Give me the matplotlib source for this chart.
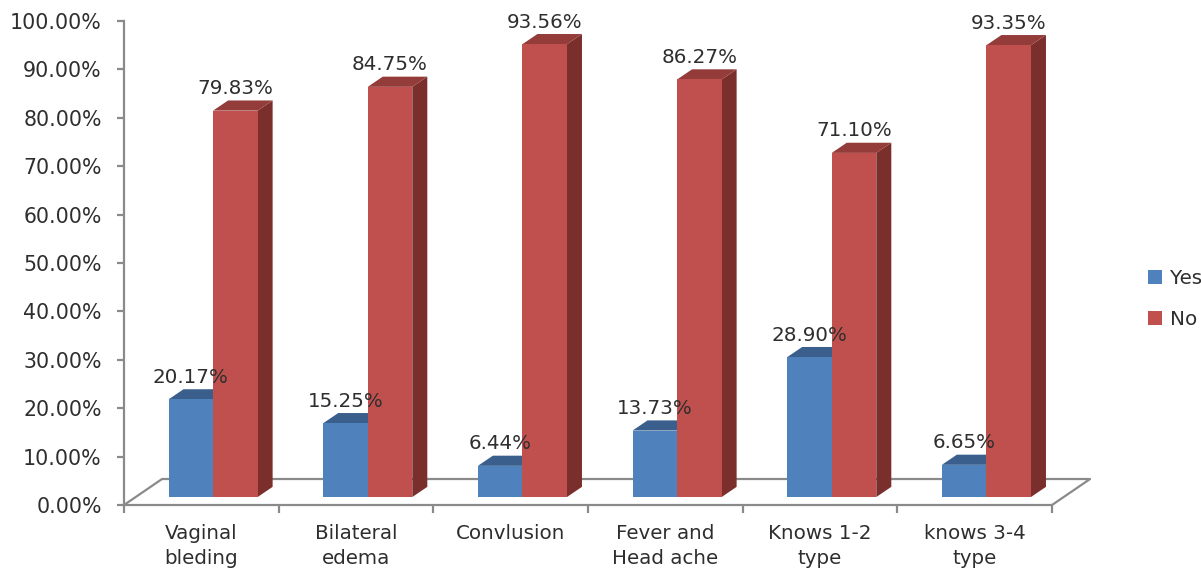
import matplotlib
matplotlib.use("Agg")
import matplotlib.pyplot as plt
from matplotlib.patches import Polygon, Patch
from matplotlib.lines import Line2D

categories = ["Vaginal\nbleding", "Bilateral\nedema", "Convlusion",
              "Fever and\nHead ache", "Knows 1-2\ntype", "knows 3-4\ntype"]
yes_values = [20.17, 15.25, 6.44, 13.73, 28.90, 6.65]
no_values = [79.83, 84.75, 93.56, 86.27, 71.10, 93.35]
y_ticks = list(range(0, 101, 10))

W, H = 1201, 571
BLUE, BLUE_TOP, BLUE_SIDE = "#4F81BD", "#3A5F8C", "#2F4F75"
RED, RED_TOP, RED_SIDE = "#C0504D", "#943C3A", "#7A2F2D"
GREY = "#8A8A8A"
INK = "#2E2E2E"
FS = 14.3

fig = plt.figure(figsize=(W / 100, H / 100), dpi=100, facecolor="white")
ax = fig.add_axes([124 / W, (H - 505) / H, (1052 - 124) / W, 484 / H])
ax.set_xlim(0, 6)
ax.set_ylim(0, 100)
ax.patch.set_visible(False)

# Extruded look: offsets in data units
BAR_W = 0.288
BAR_START = 0.288
BASE = 1.65
DX, DY = 0.097, 2.1
FLOOR_DX, FLOOR_DY = 0.246, 5.37

# Floor outline behind the bars
ax.add_line(Line2D([0, FLOOR_DX, 6 + FLOOR_DX, 6], [0, FLOOR_DY, FLOOR_DY, 0],
                   color=GREY, lw=1.6, clip_on=False, zorder=1))


def box(x0, value, front, top, side, z):
    x1 = x0 + BAR_W
    y0, y1 = BASE, BASE + value
    ax.bar(x0, value, BAR_W, bottom=BASE, align="edge", color=front, lw=0, zorder=z + 0.2)
    ax.add_patch(Polygon([(x1, y0), (x1 + DX, y0 + DY), (x1 + DX, y1 + DY), (x1, y1)],
                         closed=True, fc=side, ec="none", zorder=z, clip_on=False))
    ax.add_patch(Polygon([(x0, y1), (x0 + DX, y1 + DY), (x1 + DX, y1 + DY), (x1, y1)],
                         closed=True, fc=top, ec="none", zorder=z + 0.1, clip_on=False))


for i, (yes, no) in enumerate(zip(yes_values, no_values)):
    box(i + BAR_START, yes, BLUE, BLUE_TOP, BLUE_SIDE, 2)
    box(i + BAR_START + BAR_W, no, RED, RED_TOP, RED_SIDE, 3)

for i, (yes, no) in enumerate(zip(yes_values, no_values)):
    for x, v in ((i + BAR_START + BAR_W / 2, yes), (i + BAR_START + 1.5 * BAR_W, no)):
        ax.annotate(f"{v:.2f}%", (x, BASE + v), xytext=(0, 15.8), textcoords="offset points",
                    ha="center", va="center", fontsize=FS, color=INK, zorder=6,
                    annotation_clip=False)

# Axes, ticks and their labels
for name in ("top", "right"):
    ax.spines[name].set_visible(False)
for name in ("left", "bottom"):
    ax.spines[name].set_color(GREY)
    ax.spines[name].set_linewidth(1.6)
    ax.spines[name].set_zorder(1)

ax.set_yticks(y_ticks)
ax.set_yticklabels([f"{t:.2f}%" for t in y_ticks], fontsize=14.8, color=INK)
ax.tick_params(axis="y", length=5, width=1.6, color=GREY, pad=11)

ax.set_xticks(range(7))
ax.set_xticklabels([])
ax.tick_params(axis="x", which="major", length=5.5, width=1.6, color=GREY)
ax.set_xticks([i + 0.5 for i in range(6)], minor=True)
ax.set_xticklabels(categories, minor=True, fontsize=FS, color=INK, linespacing=1.42)
ax.tick_params(axis="x", which="minor", length=0, pad=13.5)

fig.legend(handles=[Patch(fc=BLUE, label="Yes"), Patch(fc=RED, label="No")],
           loc="upper left", bbox_to_anchor=(1148 / W, (H - 269) / H), frameon=False,
           fontsize=FS, handlelength=0.72, handleheight=0.72, handletextpad=0.4,
           labelspacing=1.12, borderpad=0, borderaxespad=0, labelcolor=INK)

fig.savefig("out.png", dpi=100, facecolor="white")
